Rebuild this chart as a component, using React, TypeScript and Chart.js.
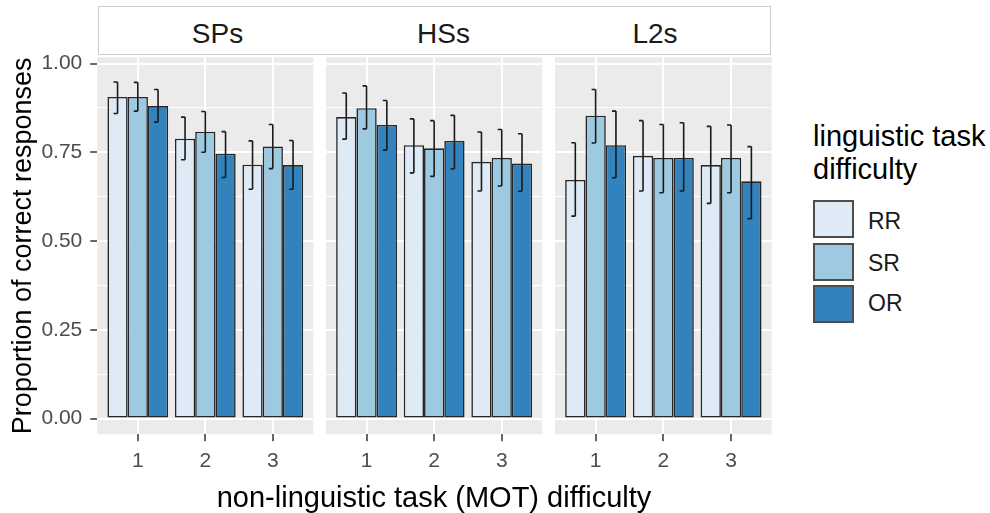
import React, { useEffect, useRef } from 'react';
import { Chart, registerables } from 'chart.js';

Chart.register(...registerables);

const FONT = "'Liberation Sans', Arial, sans-serif";

const CATEGORIES = [1, 2, 3];
const X_TICK_LABELS = ['1', '2', '3'];
const GROUPS = ['SPs', 'HSs', 'L2s'];
const SERIES = ['RR', 'SR', 'OR'];
const COLORS = ['#deebf7', '#9ecae1', '#3182bd'];
const Y_TICKS = [0, 0.25, 0.5, 0.75, 1];
const Y_TICK_LABELS = ['0.00', '0.25', '0.50', '0.75', '1.00'];
const Y_MINOR_TICKS = [0.125, 0.375, 0.625, 0.875];
const Y_TITLE = 'Proportion of correct responses';
const X_TITLE = 'non-linguistic task (MOT) difficulty';
const LEGEND_TITLE = ['linguistic task', 'difficulty'];

// SPs
const SPS_RR = [0.906, 0.788, 0.715];
const SPS_SR = [0.906, 0.808, 0.766];
const SPS_OR = [0.88, 0.746, 0.714];
const SPS_RR_LO = [0.859, 0.729, 0.646];
const SPS_RR_HI = [0.948, 0.849, 0.782];
const SPS_SR_LO = [0.866, 0.75, 0.704];
const SPS_SR_HI = [0.947, 0.865, 0.828];
const SPS_OR_LO = [0.835, 0.679, 0.646];
const SPS_OR_HI = [0.927, 0.808, 0.783];

// HSs
const HSS_RR = [0.849, 0.77, 0.723];
const HSS_SR = [0.874, 0.761, 0.734];
const HSS_OR = [0.827, 0.782, 0.718];
const HSS_RR_LO = [0.787, 0.692, 0.641];
const HSS_RR_HI = [0.917, 0.844, 0.807];
const HSS_SR_LO = [0.816, 0.682, 0.655];
const HSS_SR_HI = [0.937, 0.839, 0.814];
const HSS_OR_LO = [0.756, 0.703, 0.64];
const HSS_OR_HI = [0.896, 0.854, 0.802];

// L2s
const L2S_RR = [0.672, 0.74, 0.714];
const L2S_SR = [0.853, 0.734, 0.734];
const L2S_OR = [0.77, 0.734, 0.668];
const L2S_RR_LO = [0.57, 0.641, 0.606];
const L2S_RR_HI = [0.777, 0.839, 0.823];
const L2S_SR_LO = [0.776, 0.636, 0.636];
const L2S_SR_HI = [0.927, 0.828, 0.827];
const L2S_OR_LO = [0.678, 0.641, 0.563];
const L2S_OR_HI = [0.866, 0.833, 0.766];

const PANEL_DATA = [
  { means: [SPS_RR, SPS_SR, SPS_OR], lo: [SPS_RR_LO, SPS_SR_LO, SPS_OR_LO], hi: [SPS_RR_HI, SPS_SR_HI, SPS_OR_HI] },
  { means: [HSS_RR, HSS_SR, HSS_OR], lo: [HSS_RR_LO, HSS_SR_LO, HSS_OR_LO], hi: [HSS_RR_HI, HSS_SR_HI, HSS_OR_HI] },
  { means: [L2S_RR, L2S_SR, L2S_OR], lo: [L2S_RR_LO, L2S_SR_LO, L2S_OR_LO], hi: [L2S_RR_HI, L2S_SR_HI, L2S_OR_HI] },
];

// layout (pixels)
const H = 513;
const PLOT_TOP = 57.3;
const PLOT_BOTTOM = 434.3;
const PANEL_LAYOUT = [
  { left: 0, width: 320, padL: 0, padR: 6.7, showY: true },
  { left: 320, width: 228, padL: 6, padR: 5.7, showY: false },
  { left: 548, width: 230, padL: 7, padR: 6.3, showY: false },
];
const STRIP_X = [217.5, 443.5, 655];

const isMajor = (v: number) => Y_TICKS.some((t) => Math.abs(t - v) < 1e-6);

function Panel({ idx }: { idx: number }) {
  const ref = useRef<HTMLCanvasElement>(null);
  const lay = PANEL_LAYOUT[idx];
  const d = PANEL_DATA[idx];

  useEffect(() => {
    const bgPlugin = {
      id: 'panelBg',
      beforeDraw(chart: any) {
        const { ctx, chartArea } = chart;
        ctx.save();
        ctx.fillStyle = '#ebebeb';
        ctx.fillRect(chartArea.left, chartArea.top, chartArea.right - chartArea.left, chartArea.bottom - chartArea.top);
        ctx.restore();
      },
    };
    const errPlugin = {
      id: 'errBars',
      afterDatasetsDraw(chart: any) {
        const { ctx } = chart;
        const ys = chart.scales.y;
        ctx.save();
        ctx.strokeStyle = '#1a1a1a';
        ctx.lineWidth = 1.6;
        SERIES.forEach((_, s) => {
          const meta = chart.getDatasetMeta(s);
          meta.data.forEach((el: any, i: number) => {
            const x = el.x;
            const y1 = ys.getPixelForValue(d.lo[s][i]);
            const y2 = ys.getPixelForValue(d.hi[s][i]);
            ctx.beginPath();
            ctx.moveTo(x, y1);
            ctx.lineTo(x, y2);
            ctx.moveTo(x - 4, y1);
            ctx.lineTo(x, y1);
            ctx.moveTo(x - 4, y2);
            ctx.lineTo(x, y2);
            ctx.stroke();
          });
        });
        ctx.restore();
      },
    };

    const chart = new Chart(ref.current as HTMLCanvasElement, {
      type: 'bar',
      data: {
        datasets: SERIES.map((name, s) => ({
          label: name,
          data: CATEGORIES.map((c, i) => ({ x: c, y: d.means[s][i] })),
          backgroundColor: COLORS[s],
          borderColor: '#262626',
          borderWidth: 1.6,
          borderSkipped: false,
          categoryPercentage: 0.9,
          barPercentage: 1,
        })),
      } as any,
      options: {
        responsive: false,
        maintainAspectRatio: false,
        animation: false,
        devicePixelRatio: 1,
        events: [],
        layout: { padding: { top: PLOT_TOP, bottom: 0, left: lay.padL, right: lay.padR } },
        plugins: { legend: { display: false }, tooltip: { enabled: false }, title: { display: false } },
        scales: {
          x: {
            type: 'linear',
            min: 0.4,
            max: 3.6,
            offset: false,
            afterBuildTicks: (s: any) => {
              s.ticks = CATEGORIES.map((v) => ({ value: v }));
            },
            afterFit: (s: any) => {
              s.height = H - PLOT_BOTTOM;
            },
            ticks: {
              callback: (v: any) => {
                const k = CATEGORIES.indexOf(Number(v));
                return k >= 0 ? X_TICK_LABELS[k] : '';
              },
              color: '#4d4d4d',
              font: { size: 21, family: FONT },
              padding: 7,
              maxRotation: 0,
              autoSkip: false,
            },
            grid: {
              color: '#ffffff',
              lineWidth: 2,
              offset: false,
              drawTicks: true,
              tickLength: 7,
              tickColor: '#333333',
              tickWidth: 1.5,
            },
            border: { display: false },
            title: { display: false },
          },
          y: {
            type: 'linear',
            min: -0.0445,
            max: 1.0175,
            afterBuildTicks: (s: any) => {
              s.ticks = [...Y_TICKS, ...Y_MINOR_TICKS].sort((a, b) => a - b).map((v) => ({ value: v }));
            },
            afterFit: (s: any) => {
              s.width = lay.showY ? 97.3 : 0;
            },
            ticks: {
              display: lay.showY,
              callback: (v: any) => {
                const k = Y_TICKS.findIndex((t) => Math.abs(t - Number(v)) < 1e-6);
                return k >= 0 ? Y_TICK_LABELS[k] : '';
              },
              color: '#4d4d4d',
              font: { size: 21, family: FONT },
              padding: 8,
              autoSkip: false,
            },
            grid: {
              color: '#ffffff',
              lineWidth: (c: any) => (c.tick && isMajor(c.tick.value) ? 2 : 1),
              drawTicks: lay.showY,
              tickLength: 7,
              tickColor: (c: any) => (c.tick && isMajor(c.tick.value) ? '#333333' : 'rgba(0,0,0,0)'),
              tickWidth: 1.5,
            },
            border: { display: false },
            title: {
              display: lay.showY,
              text: Y_TITLE,
              color: '#000000',
              font: { size: 27, family: FONT },
              padding: { top: 7, bottom: 0 },
            },
          },
        },
      } as any,
      plugins: [bgPlugin, errPlugin],
    });
    return () => chart.destroy();
  }, []);

  return (
    <canvas
      ref={ref}
      width={lay.width}
      height={H}
      style={{ position: 'absolute', left: lay.left, top: 0, width: lay.width, height: H }}
    />
  );
}

export default function App() {
  const keyTops = [200, 242.5, 285];
  const labelCenters = [221.7, 263.3, 303.3];
  return (
    <div
      style={{
        position: 'absolute',
        left: 0,
        top: 0,
        width: 990,
        height: 513,
        overflow: 'hidden',
        background: '#ffffff',
        fontFamily: FONT,
      }}
    >
      {/* strip */}
      <div
        style={{
          position: 'absolute',
          left: 98,
          top: 6,
          width: 673,
          height: 49,
          boxSizing: 'border-box',
          border: '1.5px solid #cccccc',
          background: '#ffffff',
        }}
      />
      {GROUPS.map((g, i) => (
        <div
          key={g}
          style={{
            position: 'absolute',
            left: STRIP_X[i],
            top: 34 - 0.4885 * 28,
            transform: 'translateX(-50%)',
            fontSize: 28,
            lineHeight: '28px',
            color: '#1a1a1a',
            whiteSpace: 'nowrap',
          }}
        >
          {g}
        </div>
      ))}
      {[0, 1, 2].map((i) => (
        <Panel key={i} idx={i} />
      ))}
      {/* x axis title */}
      <div
        style={{
          position: 'absolute',
          left: 434,
          top: 508 - 0.8465 * 29,
          transform: 'translateX(-50%)',
          fontSize: 29,
          lineHeight: '29px',
          color: '#000000',
          whiteSpace: 'nowrap',
        }}
      >
        {X_TITLE}
      </div>
      {/* legend */}
      {LEGEND_TITLE.map((t, i) => (
        <div
          key={t}
          style={{
            position: 'absolute',
            left: 813,
            top: [146.7, 179.5][i] - 0.8465 * 29,
            fontSize: 29,
            lineHeight: '29px',
            color: '#000000',
            whiteSpace: 'nowrap',
          }}
        >
          {t}
        </div>
      ))}
      {SERIES.map((s, i) => (
        <React.Fragment key={s}>
          <div
            style={{
              position: 'absolute',
              left: 813,
              top: keyTops[i],
              width: 41,
              height: 38,
              boxSizing: 'border-box',
              border: '2px solid #4d4d4d',
              background: COLORS[i],
            }}
          />
          <div
            style={{
              position: 'absolute',
              left: 868,
              top: labelCenters[i] - 0.4885 * 23,
              fontSize: 23,
              lineHeight: '23px',
              color: '#1a1a1a',
              whiteSpace: 'nowrap',
            }}
          >
            {s}
          </div>
        </React.Fragment>
      ))}
    </div>
  );
}
